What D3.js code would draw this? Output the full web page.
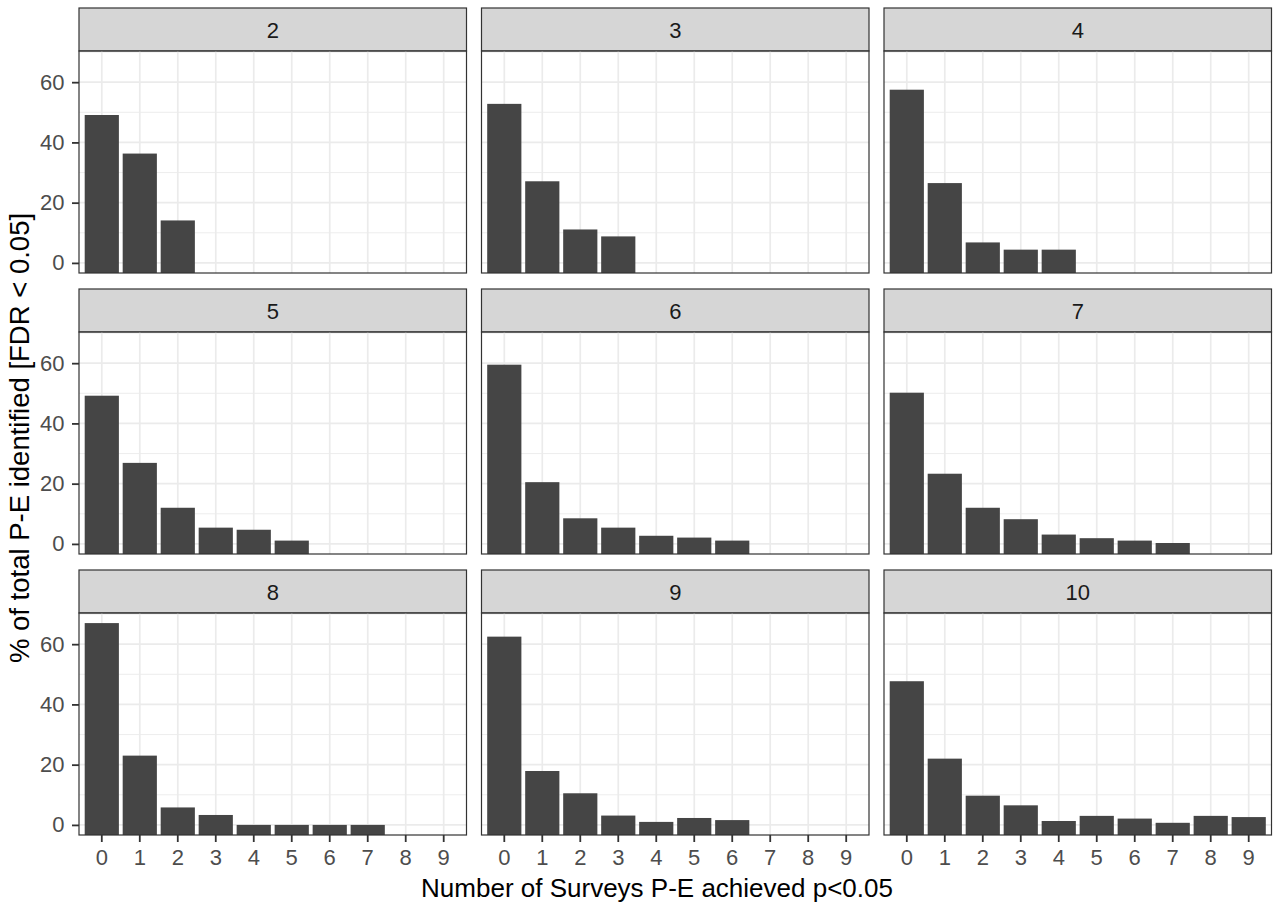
<!DOCTYPE html>
<html>
<head>
<meta charset="utf-8">
<script src="https://cdn.jsdelivr.net/npm/d3@7"></script>
<style>
  body { margin: 0; background: #fff; }
  text { font-family: "Liberation Sans", Arial, sans-serif; }
</style>
</head>
<body>
<div id="chart"></div>
<script>
// facet labels (number of surveys) and x categories
var facets = ["2", "3", "4", "5", "6", "7", "8", "9", "10"];
var categories = ["0", "1", "2", "3", "4", "5", "6", "7", "8", "9"];

// % of total P-E identified, one array per facet
var pct2 = [49.1, 36.3, 14.1];
var pct3 = [52.8, 27.1, 11.1, 8.8];
var pct4 = [57.5, 26.5, 6.8, 4.4, 4.4];
var pct5 = [49.2, 26.9, 12.0, 5.4, 4.7, 1.1];
var pct6 = [59.5, 20.5, 8.5, 5.4, 2.7, 2.1, 1.1];
var pct7 = [50.2, 23.3, 12.0, 8.2, 3.1, 1.9, 1.1, 0.3];
var pct8 = [67.0, 23.0, 5.8, 3.3, 0, 0, 0, 0];
var pct9 = [62.5, 17.9, 10.5, 3.1, 1.0, 2.3, 1.6];
var pct10 = [47.7, 22.0, 9.7, 6.5, 1.3, 3.0, 2.1, 0.7, 3.0, 2.6];

var yTicks = [0, 20, 40, 60];
var yMinor = [10, 30, 50, 70];

var series = [pct2, pct3, pct4, pct5, pct6, pct7, pct8, pct9, pct10];

var width = 1280, height = 910;
var left = 79, panelW = 387.5, gapX = 15;
var top0 = 8, stripH = 43, plotH = 222, gapY = 16;

var svg = d3.select("#chart").append("svg")
  .attr("width", width)
  .attr("height", height);

var x = d3.scaleBand()
  .domain(categories)
  .range([0, panelW])
  .paddingInner(0.1)
  .paddingOuter(0.15);

var maxV = d3.max(series, function (s) { return d3.max(s); });
var y = d3.scaleLinear()
  .domain([-0.05 * maxV, maxV * 1.05])
  .range([plotH, 0]);

facets.forEach(function (f, i) {
  var col = i % 3, row = Math.floor(i / 3);
  var px = left + col * (panelW + gapX);
  var py = top0 + row * (stripH + plotH + gapY);

  var g = svg.append("g").attr("transform", "translate(" + px + "," + py + ")");

  // strip
  g.append("rect")
    .attr("width", panelW).attr("height", stripH)
    .attr("fill", "#D6D6D6").attr("stroke", "#333333").attr("stroke-width", 1.2);
  g.append("text")
    .attr("x", panelW / 2).attr("y", stripH / 2 + 8)
    .attr("text-anchor", "middle")
    .attr("font-size", 22)
    .attr("fill", "#1A1A1A")
    .text(f);

  var p = g.append("g").attr("transform", "translate(0," + stripH + ")");

  // grid
  p.selectAll(".minor").data(yMinor.filter(function (d) { return y(d) > 0; }))
    .enter().append("line")
    .attr("x1", 0).attr("x2", panelW)
    .attr("y1", function (d) { return y(d); }).attr("y2", function (d) { return y(d); })
    .attr("stroke", "#EBEBEB").attr("stroke-width", 0.9);
  p.selectAll(".majorY").data(yTicks)
    .enter().append("line")
    .attr("x1", 0).attr("x2", panelW)
    .attr("y1", function (d) { return y(d); }).attr("y2", function (d) { return y(d); })
    .attr("stroke", "#EBEBEB").attr("stroke-width", 1.7);
  p.selectAll(".majorX").data(categories)
    .enter().append("line")
    .attr("x1", function (d) { return x(d) + x.bandwidth() / 2; })
    .attr("x2", function (d) { return x(d) + x.bandwidth() / 2; })
    .attr("y1", 0).attr("y2", plotH)
    .attr("stroke", "#EBEBEB").attr("stroke-width", 1.7);

  // bars
  var vals = series[i];
  p.selectAll(".bar").data(vals)
    .enter().append("rect")
    .attr("x", function (d, j) { return x(categories[j]); })
    .attr("width", x.bandwidth())
    .attr("y", function (d) { return y(d); })
    .attr("height", function (d) { return plotH - y(d); })
    .attr("fill", "#454545");

  // border
  p.append("rect")
    .attr("width", panelW).attr("height", plotH)
    .attr("fill", "none").attr("stroke", "#333333").attr("stroke-width", 1.2);

  // y axis on first column
  if (col === 0) {
    var ya = p.append("g")
      .call(d3.axisLeft(y).tickValues(yTicks).tickSize(7).tickPadding(7.5).tickFormat(d3.format("d")));
    ya.select(".domain").remove();
    ya.selectAll("line").attr("stroke", "#333333").attr("stroke-width", 1.8);
    ya.selectAll("text").attr("font-size", 22).attr("fill", "#4D4D4D")
      .attr("font-family", "Liberation Sans, Arial, sans-serif");
  }
  // x axis on bottom row
  if (row === 2) {
    var xa = p.append("g").attr("transform", "translate(0," + plotH + ")")
      .call(d3.axisBottom(x).tickSize(7).tickPadding(7));
    xa.select(".domain").remove();
    xa.selectAll("line").attr("stroke", "#333333").attr("stroke-width", 1.8);
    xa.selectAll("text").attr("font-size", 22).attr("fill", "#4D4D4D")
      .attr("font-family", "Liberation Sans, Arial, sans-serif");
  }
});

svg.append("text")
  .attr("x", 657)
  .attr("y", 897)
  .attr("text-anchor", "middle")
  .attr("font-size", 26)
  .attr("fill", "#000")
  .text("Number of Surveys P-E achieved p<0.05");

svg.append("text")
  .attr("transform", "translate(28.5,438) rotate(-90)")
  .attr("text-anchor", "middle")
  .attr("font-size", 27.5)
  .attr("fill", "#000")
  .text("% of total P-E identified [FDR < 0.05]");
</script>
</body>
</html>
